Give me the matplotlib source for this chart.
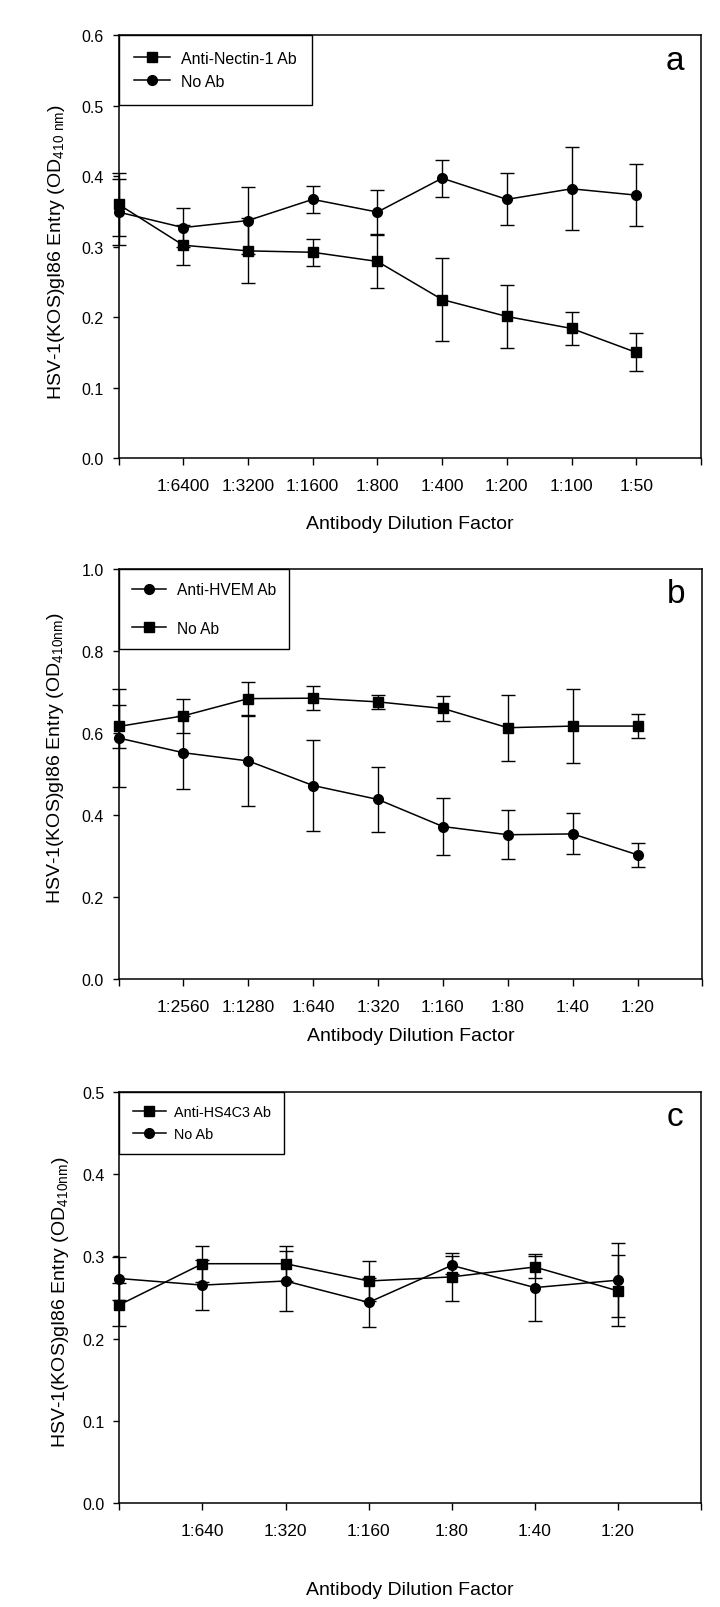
import matplotlib
matplotlib.use("Agg")
import matplotlib.pyplot as plt
from matplotlib.lines import Line2D

FONT = 'Liberation Sans'

# ---- panel a ----
labels_a = ['', '1:6400', '1:3200', '1:1600', '1:800', '1:400', '1:200', '1:100', '1:50', '']
nectin = [0.360, 0.302, 0.294, 0.292, 0.279, 0.225, 0.201, 0.184, 0.150]
nectin_err = [0.045, 0.028, 0.046, 0.019, 0.037, 0.059, 0.044, 0.023, 0.027]
noab_a = [0.349, 0.327, 0.337, 0.367, 0.349, 0.397, 0.367, 0.382, 0.373]
noab_a_err = [0.047, 0.028, 0.047, 0.019, 0.031, 0.026, 0.037, 0.059, 0.044]

# ---- panel b ----
labels_b = ['', '1:2560', '1:1280', '1:640', '1:320', '1:160', '1:80', '1:40', '1:20', '']
hvem = [0.588, 0.552, 0.532, 0.472, 0.438, 0.372, 0.352, 0.354, 0.303]
hvem_err = [0.119, 0.089, 0.110, 0.110, 0.080, 0.070, 0.060, 0.050, 0.030]
noab_b = [0.616, 0.642, 0.684, 0.685, 0.676, 0.660, 0.613, 0.617, 0.617]
noab_b_err = [0.052, 0.042, 0.041, 0.030, 0.017, 0.030, 0.080, 0.090, 0.030]

# ---- panel c ----
labels_c = ['', '1:640', '1:320', '1:160', '1:80', '1:40', '1:20', '']
hs4c3 = [0.241, 0.291, 0.291, 0.270, 0.275, 0.287, 0.258]
hs4c3_err = [0.026, 0.022, 0.021, 0.024, 0.029, 0.013, 0.043]
noab_c = [0.273, 0.265, 0.270, 0.244, 0.289, 0.262, 0.271]
noab_c_err = [0.026, 0.030, 0.037, 0.030, 0.011, 0.041, 0.045]

fig = plt.figure(figsize=(7.2, 16.08), dpi=100)
ax_a = fig.add_axes([0.1646, 0.7144, 0.809, 0.2632])
ax_b = fig.add_axes([0.1646, 0.3905, 0.811, 0.2550])
ax_c = fig.add_axes([0.1658, 0.0645, 0.8078, 0.2560])


def series(ax, y, err, marker):
    ax.errorbar(range(len(y)), y, yerr=err, color='black', lw=1.1, marker=marker,
                ms=7, capsize=5, elinewidth=1.0, capthick=1.0,
                clip_on=False, zorder=3)


def setup(ax, labels, ymax, ystep, letter, ylab, ylab_pos, xlab_y):
    n = len(labels)
    ax.set_xlim(0, n - 1)
    ax.set_ylim(0, ymax)
    ax.set_xticks(range(n))
    ax.set_xticklabels(labels, fontfamily=FONT, fontsize=12.5)
    yt = [round(i * ystep, 2) for i in range(int(round(ymax / ystep)) + 1)]
    ax.set_yticks(yt)
    ax.set_yticklabels(['%.1f' % v for v in yt], fontfamily=FONT, fontsize=11.5)
    ax.tick_params(axis='x', direction='out', length=5, width=1, pad=9)
    ax.tick_params(axis='y', direction='out', length=4.5, width=1, pad=6)
    for s in ax.spines.values():
        s.set_linewidth(1.1)
    ax.set_ylabel(ylab, fontfamily=FONT, fontsize=14)
    ax.yaxis.set_label_coords(*ylab_pos)
    ax.set_xlabel('Antibody Dilution Factor', fontfamily=FONT, fontsize=14)
    ax.xaxis.set_label_coords(0.5, xlab_y)
    ax.text(0.955, 0.94, letter, transform=ax.transAxes, fontfamily=FONT,
            fontsize=24, ha='center', va='center')


def legend(ax, markers, names, size, space, pad, hlen, tpad):
    handles = [Line2D([], [], color='black', lw=1.1, marker=m, ms=7) for m in markers]
    leg = ax.legend(handles, names, loc='upper left', bbox_to_anchor=(0, 1),
                    borderaxespad=0, fancybox=False, edgecolor='black', framealpha=1,
                    prop={'family': FONT, 'size': size}, handlelength=hlen,
                    handletextpad=tpad, labelspacing=space, borderpad=pad)
    leg.get_frame().set_linewidth(1.0)


series(ax_a, nectin, nectin_err, 's')
series(ax_a, noab_a, noab_a_err, 'o')
setup(ax_a, labels_a, 0.6, 0.1, 'a', 'HSV-1(KOS)gI86 Entry (OD$_{\\mathregular{410\\ nm}}$)',
      (-0.088, 0.49), -0.135)
legend(ax_a, ['s', 'o'], ['Anti-Nectin-1 Ab', 'No Ab'], 11.5, 0.5, 1.0, 2.2, 0.7)

series(ax_b, hvem, hvem_err, 'o')
series(ax_b, noab_b, noab_b_err, 's')
setup(ax_b, labels_b, 1.0, 0.2, 'b', 'HSV-1(KOS)gI86 Entry (OD$_{\\mathregular{410nm}}$)',
      (-0.09, 0.54), -0.118)
legend(ax_b, ['o', 's'], ['Anti-HVEM Ab', 'No Ab'], 11.2, 1.52, 0.85, 2.2, 0.7)

series(ax_c, hs4c3, hs4c3_err, 's')
series(ax_c, noab_c, noab_c_err, 'o')
setup(ax_c, labels_c, 0.5, 0.1, 'c', 'HSV-1(KOS)gI86 Entry (OD$_{\\mathregular{410nm}}$)',
      (-0.083, 0.49), -0.188)
legend(ax_c, ['s', 'o'], ['Anti-HS4C3 Ab', 'No Ab'], 10.4, 0.53, 0.93, 2.3, 0.55)

fig.savefig('out.png', dpi=100, facecolor='white')
